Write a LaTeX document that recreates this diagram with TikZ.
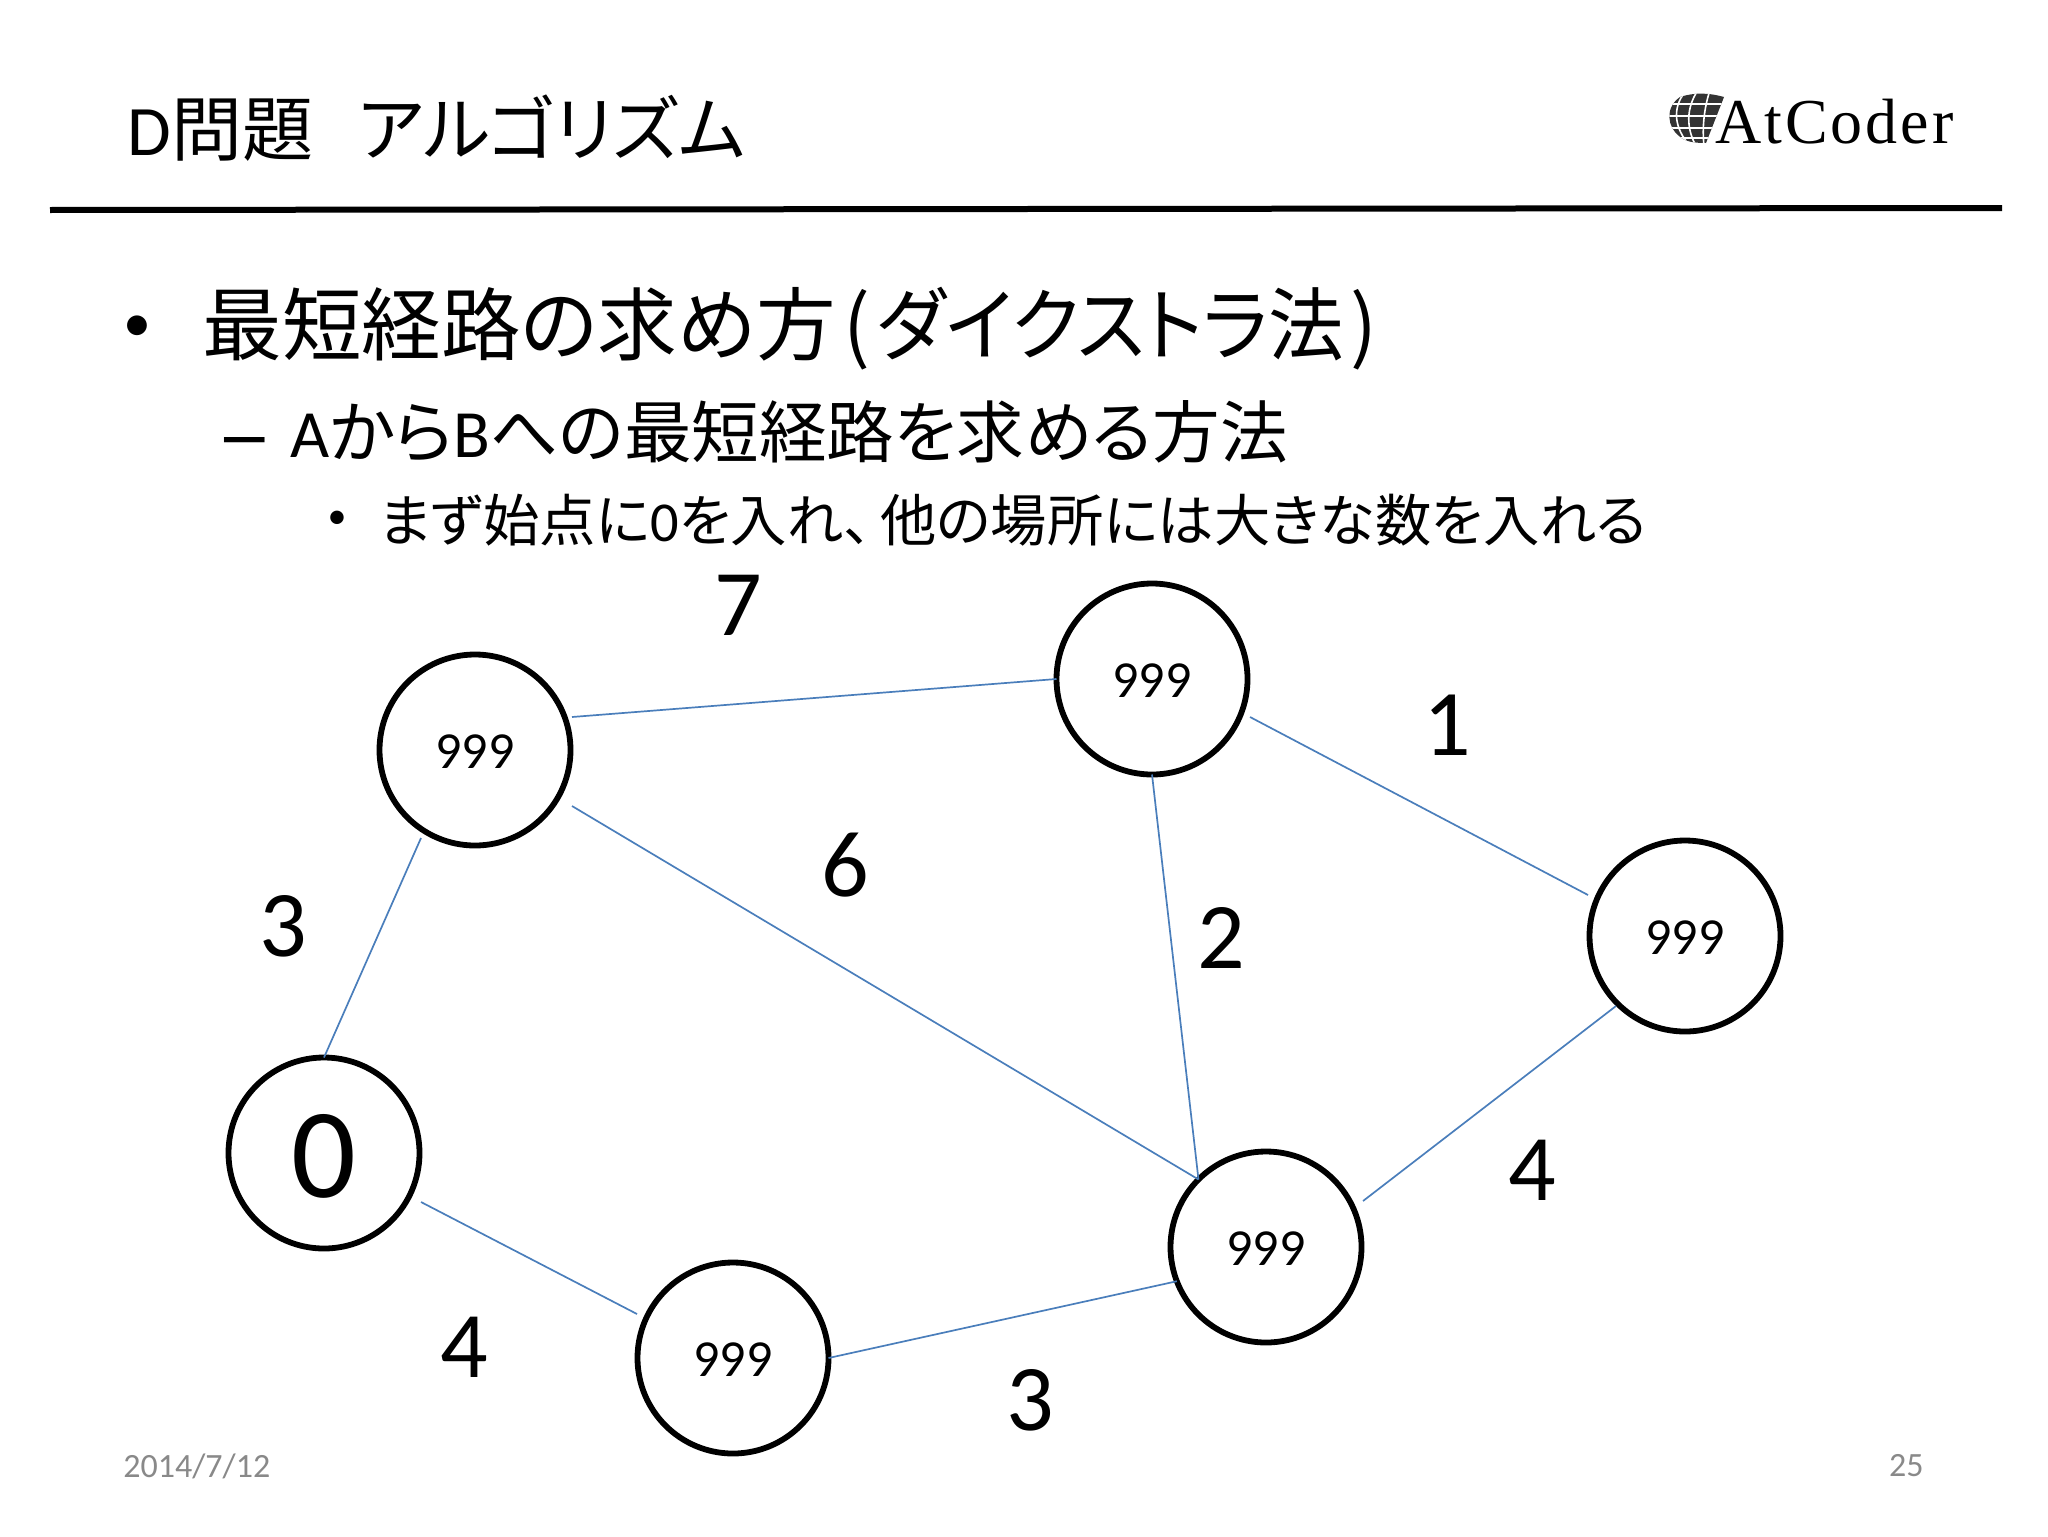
\documentclass[tikz,border=0pt]{standalone}
\usepackage{fontspec}
\usepackage{graphicx}
\setmainfont{Carlito}
\newfontfamily\jp[RawFeature=+palt]{Noto Sans CJK JP}
\newfontfamily\logofont[LetterSpace=4.6]{Liberation Serif}
\definecolor{edgeblue}{HTML}{4A7EBB}
\definecolor{footgray}{HTML}{898989}
\definecolor{globedark}{HTML}{333333}
\newcommand\lowered[2]{\raisebox{-#1}[\height][0pt]{#2}}
\tikzset{
  vertex/.style={circle,draw=black,line width=2.9pt,minimum size=95.5pt,inner sep=0pt,outer sep=0pt,font=\fontsize{26}{30}\selectfont},
  edgeline/.style={draw=edgeblue,line width=0.85pt},
  weight/.style={inner sep=0pt,font=\fontsize{47}{54}\selectfont},
  titletext/.style={anchor=west,inner sep=0pt,font=\fontsize{35.5}{40}\selectfont},
  lineone/.style={anchor=west,inner sep=0pt,font=\fontsize{39.8}{46}\selectfont},
  linetwo/.style={anchor=west,inner sep=0pt,font=\fontsize{33.8}{38}\selectfont},
  linethree/.style={anchor=west,inner sep=0pt,font=\fontsize{28.17}{32}\selectfont},
  foot/.style={inner sep=0pt,text=footgray,font=\fontsize{17}{20}\selectfont},
}
\begin{document}
\begin{tikzpicture}[x=0.5pt,y=-0.5pt]
\path[use as bounding box] (0,0) rectangle (2048,1536);
% title
\node[titletext] (title) at (127,128) {D{\jp 問題\hspace{22.5pt}アルゴリズム}};
\coordinate (ruleL) at (50,210);
\coordinate (ruleR) at (2002,208);
\draw[line width=3pt] (ruleL) -- (ruleR);
% logo
\begin{scope}
\path[clip] (1680,97) .. controls (1695,92) and (1710,93) .. (1724,97)
  -- (1706,143) .. controls (1695,143) and (1685,142) .. (1679,136)
  .. controls (1668,128) and (1664,108) .. (1680,97) -- cycle;
\fill[globedark] (1660,88) rectangle (1730,148);
\foreach \yy in {104,116,128,138}{\draw[white,line width=0.8pt] (1660,\yy) -- (1730,\yy);}
\draw[white,line width=0.8pt] (1685,92) .. controls (1672,108) and (1674,128) .. (1690,146);
\draw[white,line width=0.8pt] (1698,90) .. controls (1686,108) and (1686,128) .. (1696,146);
\draw[white,line width=0.8pt] (1710,90) .. controls (1704,108) and (1702,128) .. (1704,146);
\end{scope}
\node[anchor=base west,inner sep=0pt,font=\logofont\fontsize{32}{36}\selectfont] (logo) at (1715,143) {AtCoder};
% bullets
\node[anchor=center,inner sep=0pt,font=\fontsize{28}{34}\selectfont] (b1) at (137,329) {•};
\node[lineone] (l1) at (202,329) {\jp 最短経路の求め方\hspace{4pt}(\hspace{3pt}\scalebox{.95}[1]{ダイクストラ法}\hspace{3pt})};
\node[anchor=center,inner sep=0pt,font=\fontsize{42}{48}\selectfont] (b2) at (245,450) {\scalebox{1.35}[1]{–}};
\node[linetwo] (l2) at (290,432) {A{\jp から}B{\jp への最短経路を求める方法}};
\node[anchor=center,inner sep=0pt,font=\fontsize{19}{24}\selectfont] (b3) at (337,520) {•};
\node[linethree] (l3) at (379,520) {{\jp まず始点に}0{\jp を入れ、\hspace{4pt}他の場所には大きな数を入れる}};
% vertices
\node[vertex,font=\fontsize{64}{70}\selectfont] (A) at (324,1153) {\lowered{1.3pt}{0}};
\node[vertex] (B) at (475,750) {\lowered{1pt}{999}};
\node[vertex] (C) at (1152,679) {\lowered{1pt}{999}};
\node[vertex] (D) at (1685,936) {\lowered{1pt}{999}};
\node[vertex] (E) at (1266,1247) {\lowered{1pt}{999}};
\node[vertex] (F) at (733,1358) {\lowered{1pt}{999}};
% edges
\draw[edgeline] (A.north) -- ([shift={(-54,88)}]B.center);
\draw[edgeline] ([shift={(97,-33)}]B.center) -- (C.west);
\draw[edgeline] ([shift={(97,56)}]B.center) -- (E.135);
\draw[edgeline] (C.south) -- (E.135);
\draw[edgeline] ([shift={(98,38)}]C.center) -- ([shift={(-97,-41)}]D.center);
\draw[edgeline] ([shift={(-69,70)}]D.center) -- ([shift={(97,-46)}]E.center);
\draw[edgeline] ([shift={(97,49)}]A.center) -- ([shift={(-96,-44)}]F.center);
\draw[edgeline] (F.east) -- (E.201);
% weights
\node[weight] (w1) at (738,605) {7};
\node[weight] (w2) at (1447,725) {1};
\node[weight] (w3) at (845,865) {6};
\node[weight] (w4) at (1221,938) {2};
\node[weight] (w5) at (283,926) {3};
\node[weight] (w6) at (1532,1170) {4};
\node[weight] (w7) at (464,1347) {4};
\node[weight] (w8) at (1030,1400) {3};
% footer
\node[foot,anchor=west] (date) at (123,1466) {2014/7/12};
\node[foot,anchor=east] (page) at (1924,1466) {25};
\end{tikzpicture}
\end{document}
